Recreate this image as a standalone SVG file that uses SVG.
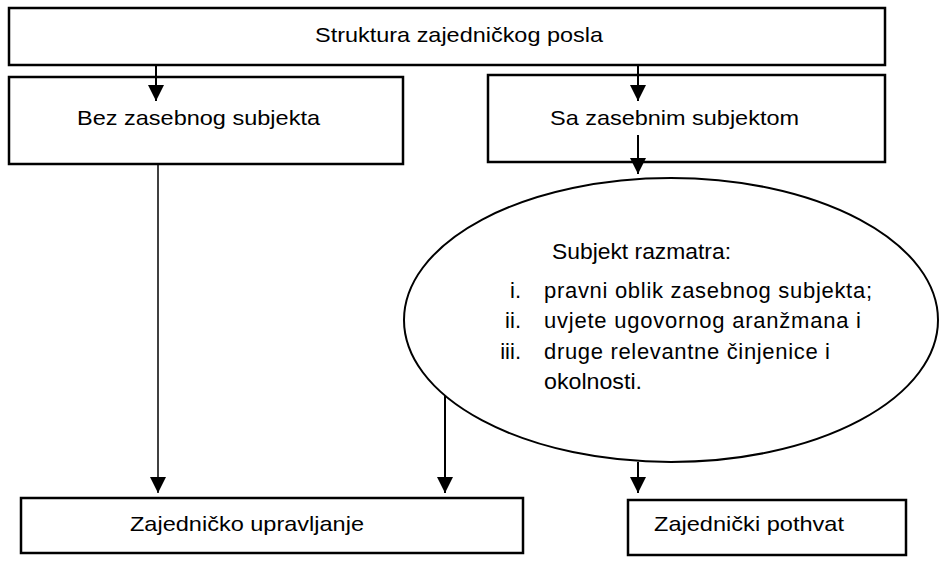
<svg xmlns="http://www.w3.org/2000/svg" width="946" height="563" viewBox="0 0 946 563">
<style>
.box{fill:#fff;stroke:#000;stroke-width:2.5}
.ell{fill:#fff;stroke:#000;stroke-width:2}
.t{font-family:"Liberation Sans",Arial,sans-serif;font-size:21px;fill:#000}
.e{font-family:"Liberation Sans",Arial,sans-serif;font-size:22px;fill:#000}
.c{stroke:#000;stroke-width:2;fill:none}
.thin{stroke-width:1.5}
</style>
<defs>
<marker id="ah" markerUnits="userSpaceOnUse" markerWidth="16" markerHeight="20" viewBox="0 0 16 20" refX="16" refY="8" orient="auto">
<path d="M0,0 L16,8 L0,16 Z" fill="#000"/>
</marker>
</defs>
<rect width="946" height="563" fill="#fff"/>
<g id="n-top">
<rect class="box" x="9" y="8" width="876" height="57"/>
<text class="t" x="315" y="42" textLength="288" lengthAdjust="spacingAndGlyphs">Struktura zajedničkog posla</text>
</g>
<g id="n-bez">
<rect class="box" x="9" y="77" width="394" height="87"/>
<text class="t" x="77" y="125" textLength="243" lengthAdjust="spacingAndGlyphs">Bez zasebnog subjekta</text>
</g>
<g id="n-sa">
<rect class="box" x="488" y="75" width="397" height="87"/>
<text class="t" x="550" y="125" textLength="249" lengthAdjust="spacingAndGlyphs">Sa zasebnim subjektom</text>
</g>
<g id="n-ellipse">
<ellipse class="ell" cx="671" cy="320" rx="267" ry="142"/>
<text class="e" x="552" y="259" textLength="179" lengthAdjust="spacingAndGlyphs">Subjekt razmatra:</text>
<text class="e" x="521" y="298" text-anchor="end">i.</text>
<text class="e" x="544" y="298" textLength="328" lengthAdjust="spacing">pravni oblik zasebnog subjekta;</text>
<text class="e" x="521" y="328" text-anchor="end">ii.</text>
<text class="e" x="544" y="328" textLength="317" lengthAdjust="spacing">uvjete ugovornog aranžmana i</text>
<text class="e" x="521" y="359" text-anchor="end">iii.</text>
<text class="e" x="544" y="359" textLength="286" lengthAdjust="spacing">druge relevantne činjenice i</text>
<text class="e" x="544" y="389" textLength="98" lengthAdjust="spacingAndGlyphs">okolnosti.</text>
</g>
<g id="n-upravljanje">
<rect class="box" x="21" y="498" width="502" height="55"/>
<text class="t" x="130" y="531" textLength="234" lengthAdjust="spacingAndGlyphs">Zajedničko upravljanje</text>
</g>
<g id="n-pothvat">
<rect class="box" x="628" y="500" width="278" height="55"/>
<text class="t" x="654" y="531" textLength="190" lengthAdjust="spacingAndGlyphs">Zajednički pothvat</text>
</g>
<g id="connectors">
<line class="c" x1="156" y1="65" x2="156" y2="101" marker-end="url(#ah)"/>
<line class="c" x1="638" y1="65" x2="638" y2="101" marker-end="url(#ah)"/>
<line class="c" x1="638" y1="135" x2="638" y2="174" marker-end="url(#ah)"/>
<line class="c thin" x1="158" y1="164" x2="158" y2="493" marker-end="url(#ah)"/>
<line class="c" x1="445" y1="396" x2="445" y2="493" marker-end="url(#ah)"/>
<line class="c" x1="638" y1="462" x2="638" y2="493" marker-end="url(#ah)"/>
</g>
</svg>
